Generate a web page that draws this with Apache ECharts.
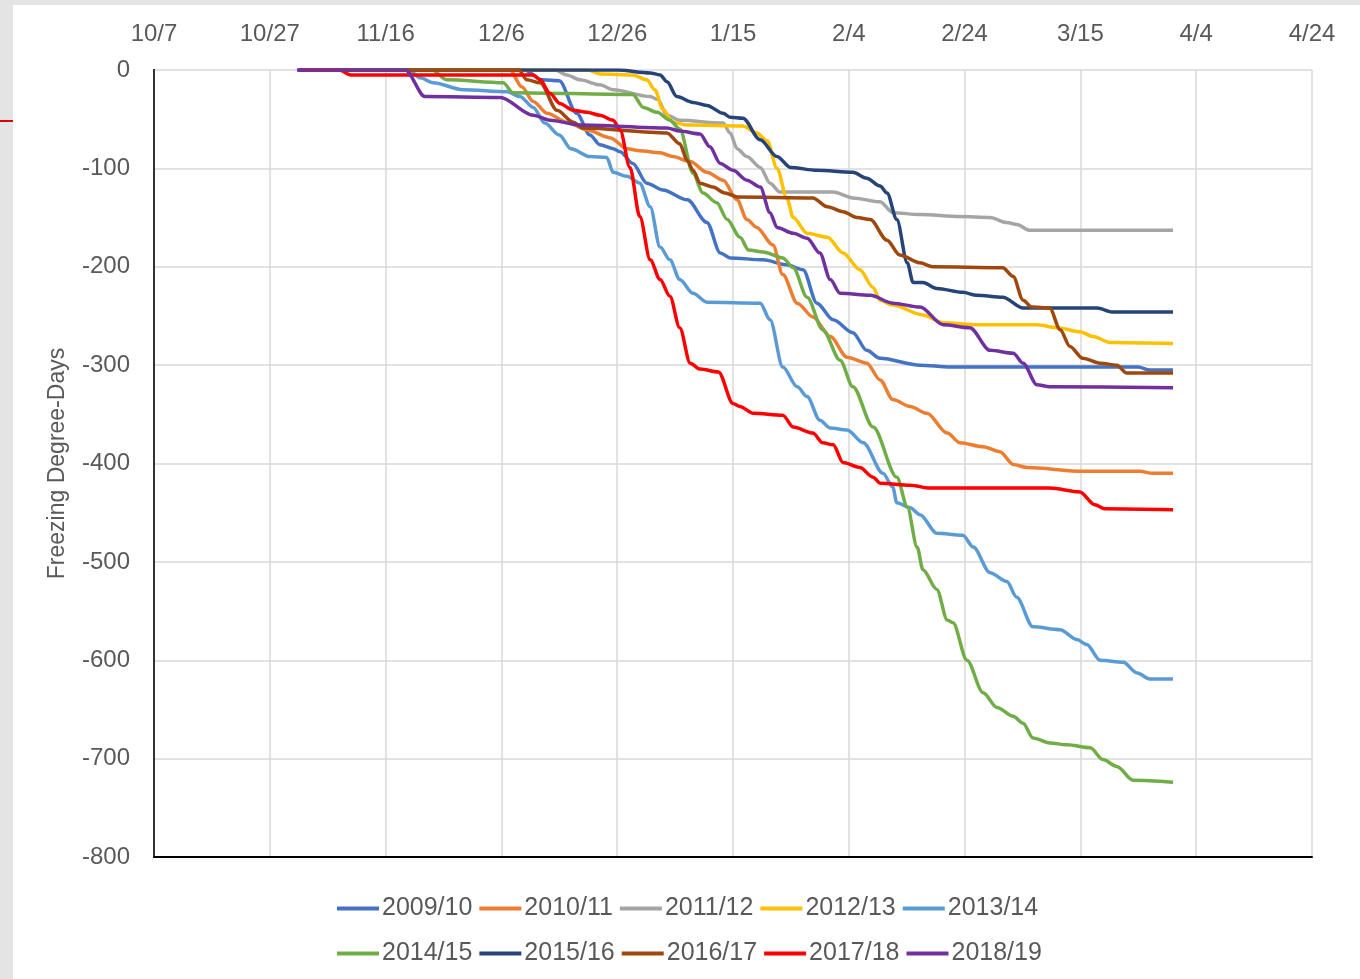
<!DOCTYPE html>
<html>
<head>
<meta charset="utf-8">
<script src="https://cdn.jsdelivr.net/npm/echarts@6/dist/echarts.min.js"></script>
<style>
  html, body { margin: 0; padding: 0; background: #e4e4e4; }
  #panel { position: absolute; left: 13px; top: 5px; width: 1347px; height: 974px; background: #fff; }
  #mark { position: absolute; left: 0; top: 120px; width: 13px; height: 2px; background: #d00; }
  #chart { position: absolute; left: 0; top: 0; width: 1360px; height: 979px; }
</style>
</head>
<body>
<div id="panel"></div>
<div id="mark"></div>
<div id="chart"></div>
<script>
// x = days after 10/7, y = freezing degree-days
const tickLabels = ['10/7', '10/27', '11/16', '12/6', '12/26', '1/15', '2/4', '2/24', '3/15', '4/4', '4/24']
const seasons = ['2009/10', '2010/11', '2011/12', '2012/13', '2013/14', '2014/15', '2015/16', '2016/17', '2017/18', '2018/19']
const colors = ['#4472C4', '#ED7D31', '#A5A5A5', '#FFC000', '#5B9BD5', '#70AD47', '#264478', '#9E480E', '#FF0000', '#7030A0']

const s2009 = [[25,0],[64,0],[67,-10],[70,-11],[73,-44],[75.3,-66],[77,-76],[79.3,-80],[80.5,-83],[82.7,-95],[85.1,-115],[87.9,-122],[92.1,-132],[95.5,-155],[97.8,-186],[99.5,-191],[105.2,-193],[109.3,-198],[112.1,-203],[114.5,-237],[117.3,-254],[120.7,-267],[123.1,-285],[125.4,-293],[132.3,-300],[137.5,-302],[170,-302],[172,-305],[176,-305]]
const s2010 = [[25,0],[61.5,0],[63.5,-17],[65.5,-32],[67.9,-44],[71.3,-53],[74.8,-61],[78.8,-69],[81.7,-80],[83.9,-82],[87.4,-84],[89.6,-88],[92.6,-93],[95.5,-104],[98.3,-112],[100.7,-132],[102.4,-152],[104.1,-160],[106.9,-178],[108.6,-208],[111.1,-237],[113.8,-251],[116.8,-271],[119.7,-292],[123.1,-298],[125.4,-315],[127.6,-335],[130.6,-342],[133.5,-349],[137,-369],[139.2,-379],[143.2,-383],[146.1,-388],[148.4,-401],[150.8,-404],[160.4,-408],[170.3,-408],[172.5,-410],[176,-410]]
const s2011 = [[25,0],[69.3,0],[71.3,-5],[73.6,-10],[77,-15],[79.3,-20],[85.7,-27],[87,-30],[88.6,-46],[90.8,-51],[98.3,-54],[99.5,-64],[100.7,-80],[102.4,-88],[104.7,-99],[106.4,-115],[108.1,-124],[117.3,-124],[120.7,-130],[125.4,-134],[127.6,-145],[132.3,-147],[139.2,-149],[144.4,-150],[147.3,-155],[149,-157],[151.3,-163],[176,-163]]
const s2012 = [[25,0],[75,0],[77,-4],[82.7,-5],[85.1,-10],[86.5,-20],[87.9,-40],[89.6,-53],[92.1,-56],[101.7,-57],[104.1,-64],[105.9,-72],[107.6,-100],[109.3,-130],[110.4,-150],[112.8,-166],[116.3,-170],[119,-186],[121.9,-203],[124.2,-221],[125.4,-234],[127.6,-239],[132.8,-249],[136.3,-257],[142.1,-259],[152.5,-259],[156,-262],[159.9,-266],[162.2,-271],[165.1,-277],[176,-278]]
const s2013 = [[25,0],[44,0],[46,-8],[48.2,-13],[53.4,-20],[61,-22],[63.2,-27],[65.5,-38],[67.5,-54],[70,-66],[72,-80],[75.3,-88],[78.2,-89],[79.3,-104],[81.7,-108],[83.9,-115],[85.7,-139],[87.4,-180],[89.1,-193],[90.8,-213],[93.1,-227],[95.5,-236],[104.7,-237],[106.4,-254],[108.6,-302],[111.1,-322],[112.8,-332],[115,-356],[116.8,-364],[119.7,-366],[122.5,-379],[125.9,-410],[127.6,-424],[128.3,-440],[130.6,-445],[132.3,-452],[135.2,-471],[139.7,-473],[141.5,-485],[144.4,-511],[147.3,-520],[149,-536],[151.8,-566],[156.5,-569],[159.4,-579],[161.1,-584],[163.4,-600],[167.4,-602],[169.8,-613],[172,-619],[176,-619]]
const s2014 = [[25,0],[48,0],[50.6,-10],[60.3,-13],[62,-23],[82.7,-25],[84.5,-38],[86.9,-43],[89.1,-51],[90.8,-60],[93.1,-105],[94.8,-125],[97.2,-135],[99,-152],[101.2,-170],[102.7,-183],[105.2,-185],[108.6,-191],[110.4,-201],[112.8,-231],[115.5,-264],[118.5,-295],[120.7,-322],[124.2,-363],[128.3,-414],[130.1,-444],[131.8,-485],[132.8,-508],[135.2,-528],[137,-559],[138,-562],[140.4,-600],[143.2,-633],[145.6,-648],[148.4,-657],[150.1,-664],[151.8,-679],[154.7,-684],[157.7,-686],[161.7,-689],[163.9,-701],[166.3,-708],[169.1,-722],[176,-724]]
const s2015 = [[25,0],[80,0],[85.7,-3],[87.4,-5],[88.6,-12],[90.3,-27],[93.1,-33],[95.5,-36],[98.3,-44],[99.5,-48],[101.7,-49],[104.7,-71],[107.6,-88],[109.9,-99],[114.5,-102],[120.7,-104],[123.1,-110],[125.4,-118],[126.6,-125],[128.3,-152],[130.1,-196],[131.1,-216],[132.8,-216],[135.2,-222],[139.7,-226],[142.1,-229],[146.6,-231],[150.1,-242],[162.9,-242],[165.6,-246],[176,-246]]
const s2016 = [[25,0],[63,0],[64.4,-10],[66.7,-13],[69.6,-41],[72.4,-53],[74.1,-59],[88.6,-64],[90.8,-75],[92.1,-92],[93.1,-102],[94.3,-115],[96.5,-119],[98.6,-125],[100.7,-129],[113.8,-130],[116.3,-139],[119,-144],[121.4,-150],[123.7,-152],[126.6,-173],[128.8,-188],[132.3,-196],[134.5,-200],[146.6,-201],[148.4,-210],[150.1,-234],[151.6,-241],[154.7,-242],[156.5,-264],[158.2,-281],[160.4,-293],[163.4,-298],[166.3,-300],[168,-308],[176,-308]]
const s2017 = [[25,0],[32,0],[34,-5],[60,-5],[65.5,-5],[66.7,-10],[68.4,-24],[70.1,-34],[72.4,-41],[74.8,-43],[77,-46],[79.3,-51],[80.5,-61],[82.2,-99],[83.9,-149],[85.7,-193],[87.4,-213],[89.1,-230],[90.8,-262],[92.6,-298],[94.3,-304],[97.5,-307],[100,-339],[101.2,-342],[103.5,-349],[108.6,-351],[110.4,-363],[113.8,-369],[115.5,-379],[117.3,-381],[119,-399],[121.9,-404],[124.2,-414],[125.4,-420],[130.6,-422],[134,-425],[154.7,-425],[159.9,-429],[162.5,-442],[164.2,-446],[176,-447]]
const s2018 = [[24.7,0],[43.4,0],[46.8,-27],[59.8,-28],[65.5,-46],[68.4,-51],[73.6,-56],[88.6,-59],[90.8,-62],[94.3,-65],[96,-78],[97.8,-95],[100,-102],[102.4,-112],[104.7,-119],[106.4,-145],[107.6,-160],[110.4,-166],[112.8,-171],[115,-186],[116.8,-213],[118.5,-227],[123.7,-229],[127.6,-237],[132.3,-241],[136.3,-259],[140.9,-262],[144.4,-285],[148.4,-288],[150.1,-298],[152.5,-320],[154.7,-322],[176,-323]]

const allData = [s2009, s2010, s2011, s2012, s2013, s2014, s2015, s2016, s2017, s2018]

let chart = echarts.init(document.getElementById('chart'))

let series = []
for (let i = 0; i < seasons.length; i++) {
  series.push({
    name: seasons[i],
    type: 'line',
    xAxisIndex: 0,
    yAxisIndex: 0,
    showSymbol: false,
    symbol: 'none',
    smooth: 0.3,
    smoothMonotone: 'x',
    lineStyle: { width: 3.5 },
    data: allData[i]
  })
}

const textColor = '#595959'
const font = 'Liberation Sans, Arial, sans-serif'
const legendBase = {
  left: 337,
  itemGap: 7,
  itemWidth: 42,
  itemHeight: 4,
  icon: 'rect',
  padding: 0,
  textStyle: { fontSize: 25, color: textColor, fontFamily: font, padding: [0, 0, 0, -2] }
}

chart.setOption({
  animation: false,
  color: colors,
  grid: { left: 154, right: 48, top: 70, bottom: 122 },
  legend: [
    Object.assign({}, legendBase, { top: 896, data: seasons.slice(0, 5) }),
    Object.assign({}, legendBase, { top: 941, data: seasons.slice(5) })
  ],
  xAxis: [
    {
      type: 'value',
      position: 'top',
      min: 0,
      max: 200,
      interval: 20,
      axisLine: { show: false },
      axisTick: { show: false },
      axisLabel: {
        fontSize: 24,
        color: textColor,
        fontFamily: font,
        margin: 24,
        formatter: v => tickLabels[Math.round(v / 20)]
      },
      splitLine: { show: true, lineStyle: { color: '#d9d9d9', width: 1.5 } }
    },
    {
      type: 'value',
      position: 'bottom',
      min: 0,
      max: 200,
      axisLine: { show: true, onZero: false, lineStyle: { color: '#000', width: 2 } },
      axisTick: { show: false },
      axisLabel: { show: false },
      splitLine: { show: false }
    }
  ],
  yAxis: [
    {
      type: 'value',
      min: -800,
      max: 0,
      interval: 100,
      name: 'Freezing Degree-Days',
      nameLocation: 'middle',
      nameGap: 85,
      nameTextStyle: { fontSize: 23, color: textColor, fontFamily: font },
      axisLine: { show: true, lineStyle: { color: '#000', width: 2 } },
      axisTick: { show: false },
      axisLabel: { fontSize: 24, color: textColor, fontFamily: font, margin: 24 },
      splitLine: { show: true, lineStyle: { color: '#d9d9d9', width: 1.5 } }
    },
    {
      type: 'value',
      position: 'right',
      min: -800,
      max: 0,
      axisLine: { show: true, lineStyle: { color: '#333', width: 2 } },
      axisTick: { show: false },
      axisLabel: { show: false },
      splitLine: { show: false }
    }
  ],
  series: series
})
</script>
</body>
</html>
